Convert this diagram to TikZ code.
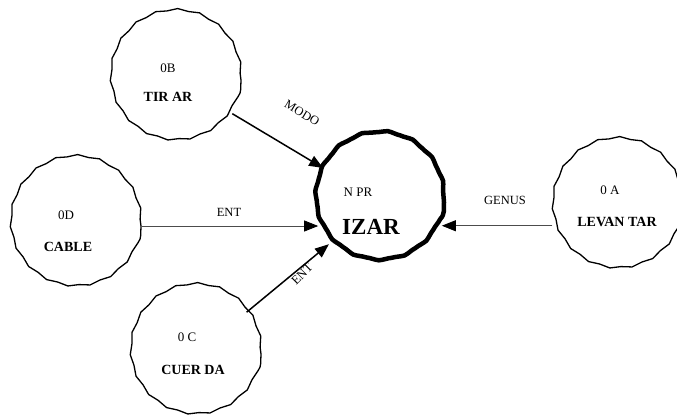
\documentclass[tikz,border=0pt]{standalone}
\usepackage{fontspec}
\setmainfont{Liberation Serif}
\usetikzlibrary{arrows.meta,decorations.pathmorphing}

\tikzset{
  concept/.style={circle, draw=black, line width=1.3pt, minimum size=130pt,
    inner sep=0pt, decorate,
    decoration={snake, amplitude=0.9pt, segment length=22pt}},
  focus/.style={concept, line width=4.5pt, minimum size=128pt,
    decoration={snake, amplitude=0.7pt, segment length=26pt}},
  tag/.style={inner sep=1pt, font=\fontsize{13}{15}\selectfont},
  word/.style={inner sep=1pt, font=\bfseries\fontsize{14}{16}\selectfont},
  bigword/.style={inner sep=1pt, font=\bfseries\fontsize{23}{26}\selectfont},
  rel/.style={inner sep=0.5pt, font=\fontsize{12.5}{14}\selectfont},
  strong/.style={draw=black, line width=1.5pt,
    -{Triangle[length=14pt,width=11pt]}},
  faint/.style={draw=black!70, line width=0.8pt,
    -{Triangle[length=14pt,width=11pt,fill=black,color=black]}}
}

\begin{document}
\begin{tikzpicture}[x=1pt,y=-1pt]
\useasboundingbox (0,0) rectangle (677,418);

% concept circles
\node[concept] (tirar) at (176,80) {};
\node[concept] (cable) at (76,226) {};
\node[concept] (cuerda) at (196,354) {};
\node[concept] (levantar) at (618,208) {};
\node[focus] (izar) at (380,202) {};

% texts inside the circles
\node[tag] (tirarcode) at (168,68) {0B};
\node[word] (tirarname) at (168,97) {TIR AR};
\node[tag] (cablecode) at (66,215) {0D};
\node[word] (cablename) at (68,247) {CABLE};
\node[tag] (cuerdacode) at (187,337) {0 C};
\node[word] (cuerdaname) at (193,370) {CUER DA};
\node[tag] (levantarcode) at (610,190) {0 A};
\node[word] (levantarname) at (617,222) {LEVAN TAR};
\node[tag] (izarcode) at (358,192) {N PR};
\node[bigword] (izarname) at (371,227) {IZAR};

% relations
\draw[strong] (tirar) -- (izar);
\draw[strong] (cuerda) -- (izar);
\draw[faint] (cable.east) -- (cable.east -| izar.201);
\draw[faint] (levantar.west |- izar.-21) -- (izar.-21);

% relation labels
\node[rel, rotate=-31] (modo) at (302,113) {MODO};
\node[rel] (ent1) at (229,212) {ENT};
\node[rel, rotate=45] (ent2) at (302,274) {ENT};
\node[rel] (genus) at (505,200) {GENUS};
\end{tikzpicture}
\end{document}
